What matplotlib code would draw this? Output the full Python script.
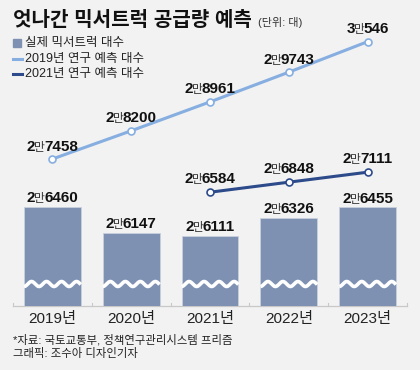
import numpy as np
import matplotlib
matplotlib.use("Agg")
import matplotlib.pyplot as plt
from matplotlib.offsetbox import TextArea, HPacker, AnnotationBbox

plt.rcParams['font.family'] = ['Liberation Sans', 'Noto Sans CJK KR', 'DejaVu Sans']

years = ["2019년", "2020년", "2021년", "2022년", "2023년"]
actual = [26460, 26147, 26111, 26326, 26455]
fc2019 = [27458, 28200, 28961, 29743, 30546]
fc2021_idx = [2, 3, 4]
fc2021 = [26584, 26848, 27111]

title = "엇나간 믹서트럭 공급량 예측"
unit = "(단위: 대)"
legend_labels = ["실제 믹서트럭 대수", "2019년 연구 예측 대수", "2021년 연구 예측 대수"]
source = "*자료: 국토교통부, 정책연구관리시스템 프리즘"
credit = "그래픽: 조수아 디자인기자"

BG = "#f2f2f2"
BAR = "#7f91b3"
LIGHT = "#86aee0"
DARK = "#2d4b8a"

W, H = 420, 370
fig = plt.figure(figsize=(W / 100, H / 100), dpi=100, facecolor=BG)

left_px, right_px, bot_px, top_px = 13, 407, 306, 30
ax = fig.add_axes([left_px / W, 1 - bot_px / H, (right_px - left_px) / W, (bot_px - top_px) / H])
ax.set_facecolor("none")
ax.set_xlim(-0.5, 4.5)
k_bar = 0.0831
v0 = 26460 - (bot_px - 207) / k_bar
ax.set_ylim(v0, v0 + (bot_px - top_px) / k_bar)
for s in ax.spines.values():
    s.set_visible(False)
ax.set_xticks([])
ax.set_yticks([])

x = np.arange(len(years))
bw = 0.72
ax.bar(x, actual, width=bw, color=BAR, edgecolor="#c9d0dc", linewidth=0.6, zorder=2)

wave_px = 284
px_per_x = (right_px - left_px) / 5
for xi in x:
    xs = np.linspace(xi - bw / 2, xi + bw / 2, 200)
    yy_px = wave_px + 2.5 * np.sin((xs - (xi - bw / 2)) * px_per_x / 15.0 * 2 * np.pi + np.pi / 2)
    yy = v0 + (bot_px - yy_px) / k_bar
    ax.plot(xs, yy, color="white", lw=2.6, solid_capstyle="butt", zorder=3)

ax.axhline(v0, color="#c8c8c8", lw=0.9, zorder=1, clip_on=False)
for b in np.arange(-0.5, 5.0, 1.0):
    ax.plot([b, b], [v0, v0 + 3 / k_bar], color="#c8c8c8", lw=0.8, clip_on=False, zorder=1)

for xi, yl in zip(x, years):
    ax.text(xi, v0 - 12.5 / k_bar, yl, ha="center", va="center", fontsize=11, color="#222222")

ax2 = ax.twinx()
ax2.set_facecolor("none")
k_line = 0.038
l0 = 27458 - (bot_px - 159) / k_line
ax2.set_ylim(l0, l0 + (bot_px - top_px) / k_line)
ax2.set_xlim(-0.5, 4.5)
for s in ax2.spines.values():
    s.set_visible(False)
ax2.set_yticks([])
ax2.set_xticks([])

ax2.plot(x, fc2019, color=LIGHT, lw=2.2, marker="o", ms=5, mfc="white", mec=LIGHT, mew=1.2, zorder=4)
ax2.plot(fc2021_idx, fc2021, color=DARK, lw=2.2, marker="o", ms=5, mfc="white", mec=DARK, mew=1.2, zorder=4)

NUMF = ["Liberation Sans", "DejaVu Sans"]


def label(axis, xv, yv, val, dy):
    man = val // 10000
    rest = val % 10000
    p1 = TextArea(str(man), textprops=dict(fontsize=11, fontweight="bold", family=NUMF, color="#111111"))
    p2 = TextArea("만", textprops=dict(fontsize=8.5, family=["Noto Sans CJK KR"], color="#333333"))
    p3 = TextArea(str(rest), textprops=dict(fontsize=11, fontweight="bold", family=NUMF, color="#111111"))
    box = HPacker(children=[p1, p2, p3], align="baseline", pad=0, sep=-0.8)
    ab = AnnotationBbox(box, (xv, yv), xybox=(0, dy), xycoords="data", boxcoords="offset points",
                        frameon=False, box_alignment=(0.5, 0.5), zorder=6)
    axis.add_artist(ab)


for xi, v in zip(x, fc2019):
    label(ax2, xi, v, v, 9)
for xi, v in zip(fc2021_idx, fc2021):
    label(ax2, xi, v, v, 9.5)
for xi, v in zip(x, actual):
    label(ax, xi, v, v, 6.3)

fig.text(13 / W, 1 - 21 / H, title, fontsize=14.5, fontweight="bold", color="#111111", va="center", ha="left")
fig.text(258 / W, 1 - 23 / H, unit, fontsize=8, color="#333333", va="center", ha="left")

leg_y = [43, 59, 74]
fig.patches.append(plt.Rectangle((13 / W, 1 - 47 / H), 8 / W, 8 / H, transform=fig.transFigure,
                                 color=BAR, figure=fig))
fig.add_artist(plt.Line2D([13 / W, 22 / W], [1 - leg_y[1] / H] * 2, color=LIGHT, lw=2.2))
fig.add_artist(plt.Line2D([13 / W, 22 / W], [1 - leg_y[2] / H] * 2, color=DARK, lw=2.2))
for yy, t in zip(leg_y, legend_labels):
    fig.text(25 / W, 1 - yy / H, t, fontsize=9, color="#222222", va="center", ha="left")

fig.text(13 / W, 1 - 340 / H, source, fontsize=8.2, color="#222222", va="center", ha="left")
fig.text(13 / W, 1 - 354 / H, credit, fontsize=8.2, color="#222222", va="center", ha="left")

fig.savefig("out.png", dpi=100, facecolor=BG)
